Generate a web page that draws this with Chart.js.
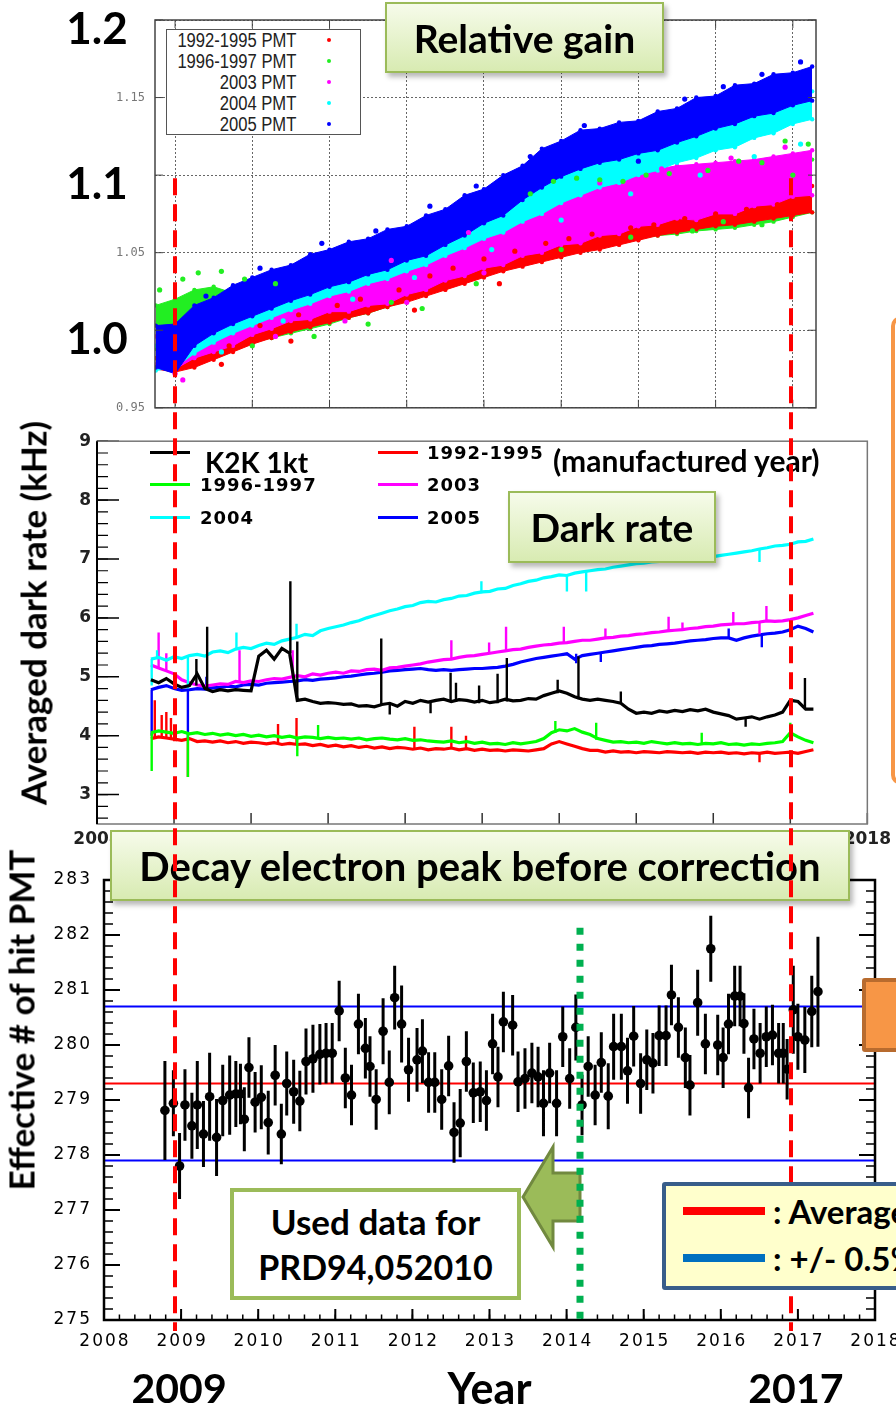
<!DOCTYPE html>
<html>
<head>
<meta charset="utf-8">
<title>PMT gain, dark rate and decay electron peak</title>
<script src="https://cdn.jsdelivr.net/npm/chart.js@4.4.1/dist/chart.umd.min.js"></script>
<style>
  html, body { margin: 0; padding: 0; }
  body { position: relative; width: 896px; height: 1407px; overflow: hidden; background: #fff; font-family: Lato, "Open Sans", sans-serif; color: #000; }
  canvas { position: absolute; left: 0; }
  #gain { top: 0; }
  #dark { top: 425px; }
  #peak { top: 835px; }
  #marks { top: 0; z-index: 5; pointer-events: none; }
  .banner { position: absolute; box-sizing: border-box; border: 2px solid #9bbb59; background: linear-gradient(#f6fbea, #d8ebb2); box-shadow: 3px 4px 5px rgba(0,0,0,0.28); display: flex; align-items: center; justify-content: center; font-weight: 700; z-index: 3; white-space: nowrap; }
  #gain-legend { position: absolute; left: 166px; top: 29px; width: 195px; height: 106px; box-sizing: border-box; border: 1px solid #555; background: #fff; z-index: 2; }
  .gl-row { position: absolute; right: 64px; height: 21px; line-height: 21px; font-size: 20px; font-family: "Liberation Sans", Arial, sans-serif; color: #222; transform: scaleX(0.83); transform-origin: right center; white-space: nowrap; }
  .gl-dot { position: absolute; left: 160px; width: 4px; height: 4px; border-radius: 50%; }
  .dl { position: absolute; z-index: 2; white-space: nowrap; font-family: "DejaVu Sans", sans-serif; font-weight: bold; font-size: 18px; letter-spacing: 1px; transform: translateY(-50%); }
  .dl-line { position: absolute; z-index: 2; width: 40px; height: 3px; }
  .ytitle { position: absolute; white-space: nowrap; font-weight: 700; font-size: 35px; line-height: 1; transform: translate(-50%, -50%) rotate(-90deg); }
  #used { position: absolute; left: 230px; top: 1188px; width: 291px; height: 112px; box-sizing: border-box; border: 4px solid #9bbb59; background: #fff; z-index: 3; display: flex; flex-direction: column; align-items: center; justify-content: center; font-weight: 700; line-height: 45px; }
  #arrow { position: absolute; left: 0; top: 0; z-index: 3; }
  #avg-box { position: absolute; left: 662px; top: 1182px; width: 300px; height: 108px; box-sizing: border-box; border: 4px solid #385d8a; border-radius: 3px; background: #ffffcc; z-index: 6; }
  .avg-row { position: absolute; left: 17px; height: 40px; display: flex; align-items: center; font-weight: 700; font-size: 33px; white-space: nowrap; transform: translateY(-50%); }
  .avg-swatch { width: 82px; height: 8px; margin-right: 8px; }
  #orange-top { position: absolute; left: 891px; top: 316px; width: 60px; height: 469px; box-sizing: border-box; border: 4px solid #f79646; border-radius: 10px; background: #fff; z-index: 6; }
  #orange-bottom { position: absolute; left: 862px; top: 978px; width: 60px; height: 74px; box-sizing: border-box; border: 4px solid #b86b2e; border-radius: 3px; background: #f79646; z-index: 6; }
</style>
</head>
<body>
<canvas id="gain" width="896" height="425"></canvas>
<canvas id="dark" width="896" height="420"></canvas>
<canvas id="peak" width="896" height="572"></canvas>
<canvas id="marks" width="896" height="1407"></canvas>

<div id="gain-legend"></div>

<div class="banner" style="left:385px;top:2px;width:279px;height:71px;font-size:39px">Relative gain</div>
<div class="banner" style="left:508px;top:491px;width:208px;height:72px;font-size:39px">Dark rate</div>
<div class="banner" style="left:110px;top:830px;width:740px;height:71px;font-size:40px">Decay electron peak before correction</div>

<div class="ytitle" style="left:33px;top:613px">Averaged dark rate (kHz)</div>
<div class="ytitle" style="left:21px;top:1020px">Effective # of hit PMT</div>

<div id="used"><div style="font-size:35px">Used data for</div><div style="font-size:34px">PRD94,052010</div></div>
<svg id="arrow" width="896" height="1407">
  <polygon points="523,1197 553,1147 553,1173 580,1173 580,1221 553,1221 553,1247" fill="#9bbb59" stroke="#71893f" stroke-width="3" stroke-linejoin="miter"/>
</svg>

<div id="avg-box">
  <div class="avg-row" style="top:25px"><span class="avg-swatch" style="background:#ff0000"></span>: Average</div>
  <div class="avg-row" style="top:72px"><span class="avg-swatch" style="background:#0070c0"></span>: +/- 0.5%</div>
</div>
<div id="orange-top"></div>
<div id="orange-bottom"></div>

<script>
// ---------- relative gain: band edges per PMT production year, 1/4-year steps ----------
const GAIN_YEARS = [2008.75, 2009.00, 2009.25, 2009.50, 2009.75, 2010.00, 2010.25, 2010.50, 2010.75, 2011.00,
  2011.25, 2011.50, 2011.75, 2012.00, 2012.25, 2012.50, 2012.75, 2013.00, 2013.25, 2013.50,
  2013.75, 2014.00, 2014.25, 2014.50, 2014.75, 2015.00, 2015.25, 2015.50, 2015.75, 2016.00,
  2016.25, 2016.50, 2016.75, 2017.00, 2017.25];

const GAIN_HI_9295 = [0.982, 0.980, 0.986, 0.991, 0.997, 1.003, 1.009, 1.012, 1.015, 1.018,
  1.020, 1.022, 1.025, 1.029, 1.034, 1.038, 1.043, 1.046, 1.050, 1.054,
  1.057, 1.060, 1.062, 1.065, 1.068, 1.071, 1.074, 1.076, 1.077, 1.079,
  1.081, 1.084, 1.087, 1.090, 1.093];
const GAIN_LO_9295 = [0.975, 0.973, 0.976, 0.981, 0.986, 0.991, 0.995, 0.999, 1.002, 1.005,
  1.008, 1.011, 1.015, 1.018, 1.022, 1.026, 1.030, 1.034, 1.038, 1.041,
  1.044, 1.047, 1.050, 1.052, 1.055, 1.058, 1.061, 1.063, 1.065, 1.067,
  1.068, 1.070, 1.072, 1.074, 1.076];

const GAIN_HI_9697 = [1.016, 1.020, 1.026, 1.028, 1.024, 1.016, 1.018, 1.020, 1.022, 1.024,
  1.028, 1.032, 1.036, 1.040, 1.045, 1.050, 1.055, 1.060, 1.064, 1.068,
  1.074, 1.080, 1.084, 1.086, 1.088, 1.090, 1.092, 1.093, 1.095, 1.098,
  1.101, 1.104, 1.110, 1.112, 1.110];
const GAIN_LO_9697 = [0.988, 0.985, 0.987, 0.989, 0.991, 0.992, 0.995, 0.998, 1.001, 1.004,
  1.008, 1.011, 1.015, 1.019, 1.023, 1.027, 1.033, 1.038, 1.043, 1.046,
  1.049, 1.051, 1.053, 1.055, 1.057, 1.059, 1.061, 1.062, 1.064, 1.065,
  1.066, 1.068, 1.070, 1.073, 1.076];

const GAIN_HI_2003 = [0.996, 0.995, 0.993, 1.004, 1.010, 1.017, 1.021, 1.026, 1.029, 1.034,
  1.036, 1.041, 1.043, 1.049, 1.052, 1.059, 1.062, 1.067, 1.069, 1.075,
  1.078, 1.087, 1.091, 1.099, 1.101, 1.102, 1.104, 1.106, 1.107, 1.108,
  1.109, 1.110, 1.112, 1.114, 1.116];
const GAIN_LO_2003 = [0.978, 0.975, 0.982, 0.986, 0.990, 0.997, 1.001, 1.006, 1.007, 1.012,
  1.012, 1.016, 1.017, 1.023, 1.026, 1.032, 1.035, 1.040, 1.042, 1.048,
  1.050, 1.055, 1.056, 1.061, 1.062, 1.067, 1.068, 1.072, 1.071, 1.075,
  1.075, 1.080, 1.081, 1.086, 1.087];

const GAIN_HI_2004 = [0.990, 0.988, 0.998, 1.005, 1.011, 1.016, 1.021, 1.026, 1.030, 1.034,
  1.038, 1.042, 1.046, 1.051, 1.055, 1.061, 1.067, 1.074, 1.080, 1.089,
  1.097, 1.104, 1.109, 1.113, 1.116, 1.120, 1.123, 1.127, 1.131, 1.136,
  1.139, 1.144, 1.147, 1.151, 1.154];
const GAIN_LO_2004 = [0.974, 0.976, 0.985, 0.992, 0.998, 1.003, 1.008, 1.013, 1.017, 1.022,
  1.025, 1.030, 1.033, 1.038, 1.042, 1.048, 1.053, 1.059, 1.063, 1.070,
  1.075, 1.082, 1.087, 1.092, 1.095, 1.100, 1.103, 1.108, 1.111, 1.116,
  1.118, 1.124, 1.127, 1.133, 1.136];

const GAIN_HI_2005 = [1.003, 1.004, 1.016, 1.021, 1.029, 1.034, 1.039, 1.042, 1.049, 1.052,
  1.057, 1.059, 1.065, 1.067, 1.074, 1.078, 1.087, 1.091, 1.100, 1.106,
  1.117, 1.122, 1.129, 1.130, 1.134, 1.135, 1.141, 1.143, 1.150, 1.151,
  1.158, 1.159, 1.165, 1.166, 1.170];
const GAIN_LO_2005 = [0.976, 0.972, 0.990, 0.998, 1.004, 1.009, 1.014, 1.019, 1.023, 1.028,
  1.031, 1.036, 1.039, 1.045, 1.048, 1.055, 1.061, 1.069, 1.074, 1.084,
  1.092, 1.099, 1.104, 1.108, 1.110, 1.114, 1.116, 1.121, 1.125, 1.130,
  1.133, 1.138, 1.140, 1.145, 1.148];

// single PMT-group points lying off the dense bands, [year, gain]
const GAIN_OUT_9295 = [[2009.6, 0.978], [2009.7, 0.990], [2010.1, 1.003], [2010.5, 0.993], [2010.6, 1.010],
  [2011.1, 1.016], [2011.4, 1.020], [2011.9, 1.026], [2012.1, 1.013], [2012.3, 1.035], [2012.6, 1.040],
  [2013.0, 1.046], [2013.2, 1.030], [2013.4, 1.051], [2013.8, 1.056], [2014.1, 1.059], [2014.4, 1.062],
  [2014.9, 1.066], [2015.2, 1.068], [2015.6, 1.072], [2016.0, 1.075], [2016.4, 1.078], [2016.8, 1.081],
  [2017.1, 1.083]];
const GAIN_OUT_9697 = [[2008.8, 1.026], [2009.1, 1.033], [2009.3, 1.037], [2009.6, 1.038], [2009.9, 1.033],
  [2010.0, 0.990], [2010.3, 1.030], [2010.8, 0.996], [2011.5, 1.004], [2011.8, 1.018], [2012.2, 1.014],
  [2012.9, 1.030], [2013.6, 1.088], [2013.9, 1.096], [2014.0, 1.052], [2014.2, 1.098], [2014.5, 1.097],
  [2014.8, 1.096], [2014.9, 1.060], [2015.1, 1.100], [2015.4, 1.101], [2015.7, 1.064], [2015.9, 1.103],
  [2016.1, 1.070], [2016.3, 1.109], [2016.6, 1.108], [2016.6, 1.068], [2016.9, 1.122], [2017.0, 1.100],
  [2017.2, 1.120]];
const GAIN_OUT_2003 = [[2009.0, 0.972], [2009.1, 0.968], [2010.3, 0.996], [2011.2, 1.006], [2011.8, 1.045],
  [2012.0, 1.018], [2012.8, 1.063], [2013.0, 1.037], [2014.5, 1.095], [2015.3, 1.104], [2016.2, 1.111],
  [2016.9, 1.118]];
const GAIN_OUT_2004 = [[2009.6, 0.986], [2010.4, 1.006], [2011.3, 1.020], [2012.1, 1.034], [2013.1, 1.052],
  [2014.0, 1.071], [2014.9, 1.088], [2015.8, 1.100], [2016.5, 1.112], [2017.1, 1.120]];
const GAIN_OUT_2005 = [[2009.4, 1.022], [2010.1, 1.040], [2010.9, 1.056], [2011.6, 1.064], [2012.3, 1.080],
  [2012.9, 1.093], [2013.6, 1.112], [2013.9, 1.097], [2014.3, 1.132], [2015.0, 1.109], [2015.6, 1.149],
  [2016.1, 1.157], [2016.6, 1.165], [2017.1, 1.173]];

const GAIN_BIG_TICKS = [1.0, 1.1, 1.2];

// ---------- averaged dark rate (kHz), 0.1-year steps, spikes as [year, from, to] ----------
const DARK_YEARS = [2008.7, 2008.8, 2008.9,
  2009.0, 2009.1, 2009.2, 2009.3, 2009.4, 2009.5, 2009.6, 2009.7, 2009.8, 2009.9,
  2010.0, 2010.1, 2010.2, 2010.3, 2010.4, 2010.5, 2010.6, 2010.7, 2010.8, 2010.9,
  2011.0, 2011.1, 2011.2, 2011.3, 2011.4, 2011.5, 2011.6, 2011.7, 2011.8, 2011.9,
  2012.0, 2012.1, 2012.2, 2012.3, 2012.4, 2012.5, 2012.6, 2012.7, 2012.8, 2012.9,
  2013.0, 2013.1, 2013.2, 2013.3, 2013.4, 2013.5, 2013.6, 2013.7, 2013.8, 2013.9,
  2014.0, 2014.1, 2014.2, 2014.3, 2014.4, 2014.5, 2014.6, 2014.7, 2014.8, 2014.9,
  2015.0, 2015.1, 2015.2, 2015.3, 2015.4, 2015.5, 2015.6, 2015.7, 2015.8, 2015.9,
  2016.0, 2016.1, 2016.2, 2016.3, 2016.4, 2016.5, 2016.6, 2016.7, 2016.8, 2016.9,
  2017.0, 2017.1, 2017.2, 2017.3];

const DARK_2004 = [5.30, 5.33, 5.28,
  5.34, 5.31, 5.36, 5.38, 5.35, 5.42, 5.44, 5.41, 5.47, 5.50,
  5.48, 5.53, 5.57, 5.55, 5.61, 5.64, 5.67, 5.72, 5.70, 5.78,
  5.82, 5.85, 5.88, 5.92, 5.95, 6.00, 6.04, 6.08, 6.12, 6.15,
  6.19, 6.21, 6.26, 6.28, 6.27, 6.31, 6.33, 6.37, 6.38, 6.42,
  6.44, 6.45, 6.49, 6.50, 6.55, 6.58, 6.62, 6.64, 6.68, 6.70,
  6.73, 6.72, 6.76, 6.78, 6.80, 6.82, 6.83, 6.86, 6.88, 6.90,
  6.92, 6.93, 6.95, 6.96, 6.97, 6.98, 6.97, 6.99, 7.01, 7.00,
  7.04, 7.06, 7.08, 7.10, 7.12, 7.14, 7.17, 7.19, 7.22, 7.23,
  7.25, 7.29, 7.30, 7.34];
const DARK_2004_SPIKES = [[2008.71, 4.85, 5.30], [2008.78, 5.30, 5.45], [2009.18, 4.80, 5.36],
  [2009.81, 5.47, 5.75], [2010.59, 5.67, 5.90], [2012.99, 6.42, 6.62], [2014.10, 6.45, 6.72],
  [2014.35, 6.45, 6.78], [2016.60, 6.95, 7.17]];

const DARK_2003 = [5.20, 5.15, 5.10,
  5.05, 4.95, 4.90, 4.86, 4.84, 4.86, 4.88, 4.87, 4.92, 4.90,
  4.93, 4.92, 4.95, 4.97, 4.96, 4.99, 5.02, 5.00, 5.05, 5.03,
  5.06, 5.08, 5.06, 5.10, 5.09, 5.12, 5.13, 5.11, 5.15, 5.16,
  5.18, 5.20, 5.22, 5.25, 5.27, 5.29, 5.30, 5.33, 5.35, 5.36,
  5.38, 5.40, 5.42, 5.44, 5.46, 5.47, 5.50, 5.52, 5.54, 5.55,
  5.57, 5.58, 5.60, 5.62, 5.62, 5.64, 5.66, 5.67, 5.69, 5.70,
  5.72, 5.73, 5.75, 5.76, 5.78, 5.79, 5.80, 5.82, 5.83, 5.85,
  5.86, 5.88, 5.89, 5.90, 5.90, 5.92, 5.93, 5.95, 5.94, 5.95,
  5.97, 6.00, 6.04, 6.08];
const DARK_2003_SPIKES = [[2008.80, 5.15, 5.75], [2008.90, 5.10, 5.40], [2009.85, 4.90, 5.45],
  [2010.54, 4.99, 5.45], [2012.60, 5.30, 5.62], [2013.09, 5.40, 5.58], [2013.31, 5.44, 5.85],
  [2014.06, 5.57, 5.85], [2014.60, 5.66, 5.82], [2015.42, 5.78, 6.02], [2015.60, 5.80, 5.92],
  [2016.26, 5.90, 6.10], [2016.60, 5.72, 5.93], [2016.69, 5.95, 6.20]];

const DARK_2005 = [4.78, 4.82, 4.85,
  4.80, 4.77, 4.78, 4.80, 4.79, 4.81, 4.82, 4.84, 4.83, 4.86,
  4.87, 4.86, 4.89, 4.90, 4.91, 4.92, 4.93, 4.95, 4.94, 4.96,
  4.97, 4.98, 5.00, 5.01, 5.03, 5.05, 5.06, 5.08, 5.10, 5.11,
  5.12, 5.13, 5.14, 5.12, 5.11, 5.12, 5.11, 5.12, 5.13, 5.14,
  5.14, 5.15, 5.16, 5.18, 5.21, 5.25, 5.28, 5.31, 5.33, 5.35,
  5.37, 5.39, 5.30, 5.36, 5.38, 5.40, 5.42, 5.44, 5.46, 5.48,
  5.50, 5.52, 5.53, 5.55, 5.56, 5.57, 5.59, 5.61, 5.62, 5.63,
  5.65, 5.66, 5.66, 5.62, 5.66, 5.69, 5.71, 5.73, 5.74, 5.76,
  5.80, 5.86, 5.82, 5.76];
const DARK_2005_SPIKES = [[2008.71, 4.00, 4.78], [2009.18, 3.95, 4.80], [2009.42, 4.79, 5.00],
  [2014.22, 5.23, 5.39], [2014.54, 5.25, 5.42], [2016.20, 5.66, 5.82], [2016.63, 5.50, 5.71]];

const DARK_K2K = [4.95, 4.90, 4.97,
  4.88, 4.82, 4.85, 5.05, 4.80, 4.75, 4.78, 4.76, 4.78, 4.77,
  4.76, 5.35, 5.45, 5.30, 5.48, 5.40, 4.60, 4.62, 4.58, 4.55,
  4.56, 4.55, 4.53, 4.54, 4.50, 4.51, 4.49, 4.53, 4.55, 4.50,
  4.58, 4.55, 4.60, 4.57, 4.60, 4.62, 4.58, 4.61, 4.60, 4.57,
  4.60, 4.56, 4.58, 4.62, 4.59, 4.60, 4.63, 4.62, 4.68, 4.72,
  4.76, 4.72, 4.66, 4.62, 4.60, 4.62, 4.60, 4.58, 4.55, 4.45,
  4.38, 4.40, 4.38, 4.42, 4.40, 4.43, 4.41, 4.44, 4.42, 4.45,
  4.40, 4.37, 4.34, 4.28, 4.30, 4.32, 4.28, 4.32, 4.35, 4.40,
  4.60, 4.58, 4.45, 4.45];
const DARK_K2K_SPIKES = [[2009.29, 4.85, 5.30], [2009.43, 4.80, 5.85], [2010.51, 5.40, 6.62],
  [2010.60, 4.60, 5.60], [2011.69, 4.52, 5.65], [2011.80, 4.36, 4.55], [2012.33, 4.38, 4.57],
  [2012.59, 4.58, 5.07], [2012.66, 4.57, 4.90], [2012.96, 4.55, 4.85], [2013.20, 4.55, 5.05],
  [2013.32, 4.58, 5.32], [2013.98, 4.72, 4.95], [2014.25, 4.62, 5.35], [2014.80, 4.55, 4.75],
  [2016.42, 4.15, 4.30], [2017.19, 4.45, 4.98]];

const DARK_9697 = [4.05, 4.08, 4.06,
  4.04, 4.07, 4.03, 4.05, 4.02, 4.04, 4.01, 4.03, 4.00, 4.02,
  3.99, 4.01, 3.98, 4.00, 3.97, 3.99, 3.96, 3.98, 3.97, 3.95,
  3.97, 3.95, 3.96, 3.94, 3.96, 3.93, 3.95, 3.96, 3.94, 3.93,
  3.95, 3.92, 3.93, 3.91, 3.90, 3.89, 3.91, 3.88, 3.90, 3.87,
  3.89, 3.86, 3.87, 3.85, 3.88, 3.86, 3.88, 3.90, 3.95, 4.05,
  4.10, 4.08, 4.12, 4.06, 4.02, 3.95, 3.92, 3.89, 3.90, 3.88,
  3.89, 3.87, 3.90, 3.88, 3.86, 3.88, 3.86, 3.87, 3.85, 3.87,
  3.86, 3.88, 3.85, 3.86, 3.84, 3.86, 3.85, 3.87, 3.88, 3.90,
  4.05, 3.98, 3.92, 3.88];
const DARK_9697_SPIKES = [[2008.71, 3.40, 4.05], [2009.18, 3.30, 4.05], [2010.60, 3.65, 3.96],
  [2010.87, 3.97, 4.18], [2013.95, 4.05, 4.25], [2014.48, 3.93, 4.22], [2015.85, 3.86, 4.05],
  [2017.00, 4.05, 4.22]];

const DARK_9295 = [3.95, 3.98, 3.96,
  3.94, 3.92, 3.95, 3.90, 3.91, 3.89, 3.91, 3.88, 3.90, 3.87,
  3.89, 3.88, 3.86, 3.88, 3.85, 3.87, 3.85, 3.86, 3.83, 3.85,
  3.82, 3.84, 3.81, 3.83, 3.80, 3.82, 3.79, 3.81, 3.78, 3.80,
  3.79, 3.77, 3.79, 3.76, 3.78, 3.77, 3.79, 3.76, 3.78, 3.75,
  3.77, 3.75, 3.76, 3.74, 3.76, 3.75, 3.74, 3.76, 3.78, 3.86,
  3.90, 3.86, 3.82, 3.78, 3.75, 3.75, 3.72, 3.74, 3.72, 3.73,
  3.71, 3.73, 3.72, 3.71, 3.73, 3.72, 3.71, 3.72, 3.70, 3.72,
  3.71, 3.72, 3.70, 3.71, 3.69, 3.71, 3.70, 3.72, 3.70, 3.71,
  3.72, 3.70, 3.73, 3.76];
const DARK_9295_SPIKES = [[2008.75, 3.96, 4.60], [2008.84, 3.97, 4.35], [2008.90, 3.96, 4.40],
  [2008.96, 3.95, 4.30], [2009.18, 3.30, 3.95], [2010.35, 3.86, 4.20], [2010.59, 3.85, 4.30],
  [2012.12, 3.77, 4.15], [2012.60, 3.79, 4.15], [2012.79, 3.77, 4.00], [2016.60, 3.55, 3.70]];

// ---------- decay electron peak: monthly points with errors ----------
const PEAK_YEAR = [2008.79, 2008.90, 2008.98, 2009.05, 2009.14, 2009.21, 2009.29, 2009.37, 2009.46, 2009.54,
  2009.63, 2009.71, 2009.77, 2009.82, 2009.88, 2009.96, 2010.04, 2010.13, 2010.22, 2010.30,
  2010.37, 2010.46, 2010.54, 2010.62, 2010.71, 2010.80, 2010.88, 2010.96, 2011.05, 2011.13,
  2011.21, 2011.30, 2011.39, 2011.45, 2011.53, 2011.62, 2011.70, 2011.77, 2011.86, 2011.95,
  2012.06, 2012.13, 2012.21, 2012.29, 2012.38, 2012.47, 2012.54, 2012.62, 2012.70, 2012.79,
  2012.88, 2012.96, 2013.04, 2013.11, 2013.18, 2013.30, 2013.37, 2013.46, 2013.55, 2013.63,
  2013.70, 2013.78, 2013.87, 2013.95, 2014.04, 2014.12, 2014.20, 2014.28, 2014.37, 2014.45,
  2014.54, 2014.61, 2014.71, 2014.79, 2014.87, 2014.96, 2015.04, 2015.12, 2015.20, 2015.29,
  2015.36, 2015.45, 2015.54, 2015.60, 2015.70, 2015.80, 2015.87, 2015.96, 2016.03, 2016.10,
  2016.18, 2016.25, 2016.30, 2016.36, 2016.43, 2016.51, 2016.59, 2016.67, 2016.75, 2016.81,
  2016.86, 2016.94, 2017.00, 2017.09, 2017.18, 2017.26];
const PEAK_VALUE = [278.81, 278.94, 277.80, 278.91, 278.53, 278.91, 278.38, 279.06, 278.32, 278.99,
  279.09, 279.11, 279.11, 278.65, 279.59, 278.96, 279.05, 278.59, 279.45, 278.38,
  279.30, 279.15, 278.98, 279.70, 279.75, 279.83, 279.85, 279.85, 280.62, 279.40,
  279.09, 280.38, 279.94, 279.61, 279.01, 280.25, 279.32, 280.86, 280.38, 279.55,
  279.73, 279.89, 279.32, 279.32, 279.01, 279.62, 278.41, 278.58, 279.70, 279.13,
  279.15, 278.99, 280.02, 279.42, 280.42, 280.36, 279.33, 279.39, 279.49, 279.42,
  278.94, 279.49, 278.94, 280.15, 279.39, 280.32, 278.91, 279.61, 279.09, 279.68,
  279.07, 279.97, 279.97, 279.53, 280.16, 279.30, 279.73, 279.67, 280.17, 280.17,
  280.91, 280.32, 279.77, 279.27, 280.77, 280.02, 281.75, 280.00, 279.77, 280.38,
  280.89, 280.89, 280.39, 279.22, 280.11, 279.85, 280.15, 280.18, 279.85, 279.85,
  279.56, 280.64, 280.15, 280.09, 280.61, 280.97];
const PEAK_ERR = [0.90, 0.60, 0.60, 0.65, 0.60, 0.80, 0.60, 0.80, 0.70, 0.65,
  0.72, 0.60, 0.55, 0.58, 0.55, 0.55, 0.58, 0.58, 0.55, 0.55,
  0.58, 0.58, 0.55, 0.60, 0.62, 0.55, 0.55, 0.55, 0.55, 0.55,
  0.55, 0.55, 0.55, 0.55, 0.55, 0.60, 0.58, 0.58, 0.70, 0.58,
  0.58, 0.58, 0.55, 0.55, 0.55, 0.55, 0.55, 0.62, 0.55, 0.55,
  0.55, 0.55, 0.55, 0.55, 0.55, 0.55, 0.55, 0.55, 0.55, 0.55,
  0.60, 0.55, 0.60, 0.55, 0.55, 0.60, 0.55, 0.55, 0.55, 0.55,
  0.60, 0.60, 0.60, 0.60, 0.55, 0.55, 0.55, 0.55, 0.55, 0.55,
  0.55, 0.55, 0.55, 0.55, 0.60, 0.55, 0.60, 0.55, 0.55, 0.55,
  0.55, 0.55, 0.55, 0.55, 0.55, 0.55, 0.55, 0.55, 0.55, 0.55,
  0.55, 0.80, 0.60, 0.60, 0.65, 1.00];
const PEAK_BIN_HALF = 0.04;
const PEAK_AVERAGE = 279.3;
const PEAK_BAND = [277.9, 280.7];
const PEAK_Y_TICKS = [275, 276, 277, 278, 279, 280, 281, 282, 283];
const YEAR_TICKS = [2008, 2009, 2010, 2011, 2012, 2013, 2014, 2015, 2016, 2017, 2018];

// dashed markers: period ends (red) and the analysis cut (green)
const MARK_YEARS = [2008.92, 2016.91];
const MARK_LABELS = ["2009", "2017"];
const CUT_YEAR = 2014.17;

// order: lower number is drawn on top
const GAIN_SERIES = [
  { label: "1992-1995 PMT", color: "#ff0000", hi: GAIN_HI_9295, lo: GAIN_LO_9295, out: GAIN_OUT_9295, order: 3 },
  { label: "1996-1997 PMT", color: "#22ee22", hi: GAIN_HI_9697, lo: GAIN_LO_9697, out: GAIN_OUT_9697, order: 4 },
  { label: "2003 PMT", color: "#ff00ff", hi: GAIN_HI_2003, lo: GAIN_LO_2003, out: GAIN_OUT_2003, order: 2 },
  { label: "2004 PMT", color: "#00ffff", hi: GAIN_HI_2004, lo: GAIN_LO_2004, out: GAIN_OUT_2004, order: 1 },
  { label: "2005 PMT", color: "#0000ff", hi: GAIN_HI_2005, lo: GAIN_LO_2005, out: GAIN_OUT_2005, order: 0 },
];

const DARK_SERIES = [
  { label: "K2K 1kt", color: "#000000", values: DARK_K2K, spikes: DARK_K2K_SPIKES },
  { label: "1996-1997", color: "#00ff00", values: DARK_9697, spikes: DARK_9697_SPIKES },
  { label: "2004", color: "#00ffff", values: DARK_2004, spikes: DARK_2004_SPIKES },
  { label: "1992-1995", color: "#ff0000", values: DARK_9295, spikes: DARK_9295_SPIKES },
  { label: "2003", color: "#ff00ff", values: DARK_2003, spikes: DARK_2003_SPIKES },
  { label: "2005", color: "#0000ff", values: DARK_2005, spikes: DARK_2005_SPIKES },
];

Chart.defaults.animation = false;
Chart.defaults.responsive = false;
Chart.defaults.devicePixelRatio = 1;
Chart.defaults.plugins.legend.display = false;
Chart.defaults.plugins.tooltip.enabled = false;
Chart.defaults.layout.autoPadding = false;

function pairs(xs, ys) {
  return xs.map(function (x, i) { return { x: x, y: ys[i] }; });
}

// frame box plus inward tick marks, ROOT style
function framePlugin(cfg) {
  return {
    id: "frame",
    afterDatasetsDraw(chart) {
      const ctx = chart.ctx, a = chart.chartArea;
      ctx.save();
      ctx.setLineDash([]);
      cfg.ticks.forEach(function (t) {
        const s = chart.scales[t.axis];
        ctx.strokeStyle = t.color || cfg.color;
        ctx.lineWidth = t.width;
        const n0 = Math.ceil(s.min / t.step - 1e-6);
        const n1 = Math.floor(s.max / t.step + 1e-6);
        ctx.beginPath();
        for (let n = n0; n <= n1; n++) {
          const p = s.getPixelForValue(n * t.step);
          t.sides.forEach(function (side) {
            if (side === "left") { ctx.moveTo(a.left, p); ctx.lineTo(a.left + t.len, p); }
            if (side === "right") { ctx.moveTo(a.right, p); ctx.lineTo(a.right - t.len, p); }
            if (side === "bottom") { ctx.moveTo(p, a.bottom); ctx.lineTo(p, a.bottom - t.len); }
            if (side === "top") { ctx.moveTo(p, a.top); ctx.lineTo(p, a.top + t.len); }
          });
        }
        ctx.stroke();
      });
      ctx.strokeStyle = cfg.color;
      ctx.lineWidth = cfg.width;
      ctx.strokeRect(a.left, a.top, a.right - a.left, a.bottom - a.top);
      if (cfg.leftColor) {
        ctx.strokeStyle = cfg.leftColor;
        ctx.lineWidth = cfg.leftWidth;
        ctx.beginPath();
        ctx.moveTo(a.left, a.top);
        ctx.lineTo(a.left, a.bottom);
        ctx.stroke();
      }
      ctx.restore();
    },
  };
}

// ---------- relative gain ----------
const gainDatasets = [];
GAIN_SERIES.forEach(function (s) {
  const common = { borderColor: s.color, backgroundColor: s.color, borderWidth: 1, pointRadius: 2.2,
    pointBorderWidth: 0, pointBackgroundColor: s.color, order: s.order, tension: 0 };
  gainDatasets.push(Object.assign({ label: s.label, data: pairs(GAIN_YEARS, s.hi), fill: "+1" }, common));
  gainDatasets.push(Object.assign({ label: s.label + " low", data: pairs(GAIN_YEARS, s.lo), fill: false }, common));
});
GAIN_SERIES.forEach(function (s) {
  gainDatasets.push({ label: s.label + " single", data: s.out.map(function (p) { return { x: p[0], y: p[1] }; }),
    showLine: false, pointRadius: 2.6, pointBorderWidth: 0, pointBackgroundColor: s.color, order: -1 });
});

const gainBigLabels = {
  id: "gainBig",
  afterDraw(chart) {
    const ctx = chart.ctx, y = chart.scales.y;
    ctx.save();
    ctx.font = "bold 44px Lato";
    ctx.fillStyle = "#000";
    ctx.textAlign = "center";
    ctx.textBaseline = "middle";
    GAIN_BIG_TICKS.forEach(function (v) {
      ctx.fillText(v.toFixed(1), 97, y.getPixelForValue(v) + 10);
    });
    ctx.restore();
  },
};

const gainChart = new Chart(document.getElementById("gain"), {
  type: "line",
  data: { datasets: gainDatasets },
  options: {
    layout: { padding: { top: 20, right: 80, left: 0, bottom: 0 } },
    scales: {
      x: {
        type: "linear", min: 2008.74, max: 2017.30,
        afterFit: function (s) { s.height = 9; },
        ticks: { display: false, stepSize: 1, includeBounds: false },
        grid: { color: "#666", lineWidth: 1, drawTicks: false },
        border: { display: false, dash: [2, 2] },
      },
      y: {
        min: 0.95, max: 1.2,
        afterFit: function (s) { s.width = 155; },
        ticks: {
          stepSize: 0.05, padding: 10, color: "#777",
          font: { family: "DejaVu Sans Mono", size: 12 },
          callback: function (v) {
            const k = Math.round(v * 100);
            return k % 10 === 0 ? "" : (k / 100).toFixed(2);
          },
        },
        grid: { color: "#666", lineWidth: 1, drawTicks: false },
        border: { display: false, dash: [2, 2] },
      },
    },
  },
  plugins: [framePlugin({ color: "#444", width: 1.5, ticks: [
    { axis: "x", step: 1, sides: ["bottom", "top"], len: 8, width: 1 },
    { axis: "y", step: 0.05, sides: ["left", "right"], len: 8, width: 1 },
  ] }), gainBigLabels],
});

// legend box of the gain panel
const gainLegend = document.getElementById("gain-legend");
GAIN_SERIES.forEach(function (s, i) {
  const row = document.createElement("div");
  row.className = "gl-row";
  row.style.top = (i * 21) + "px";
  row.textContent = s.label;
  gainLegend.appendChild(row);
  const dot = document.createElement("div");
  dot.className = "gl-dot";
  dot.style.top = (i * 21 + 8) + "px";
  dot.style.background = s.color;
  gainLegend.appendChild(dot);
});

// ---------- dark rate ----------
const darkDatasets = [];
DARK_SERIES.forEach(function (s, i) {
  darkDatasets.push({ label: s.label, data: pairs(DARK_YEARS, s.values), borderColor: s.color,
    borderWidth: 3.2, pointRadius: 0, tension: 0, fill: false, order: i });
  const spikePts = [];
  s.spikes.forEach(function (p) {
    spikePts.push({ x: p[0], y: p[1] }, { x: p[0], y: p[2] }, { x: p[0], y: null });
  });
  darkDatasets.push({ label: s.label + " spikes", data: spikePts, borderColor: s.color,
    borderWidth: 2.4, pointRadius: 0, tension: 0, fill: false, spanGaps: false, order: i });
});

const darkChart = new Chart(document.getElementById("dark"), {
  type: "line",
  data: { datasets: darkDatasets },
  options: {
    layout: { padding: { top: 10, right: 27, left: 0, bottom: 0 } },
    scales: {
      x: {
        type: "linear", min: 2008, max: 2018,
        afterFit: function (s) { s.height = 21; },
        ticks: { stepSize: 1, padding: 5, color: "#222", font: { family: "DejaVu Sans", size: 17, weight: "bold" },
          callback: function (v) { return String(v); } },
        grid: { display: false, drawTicks: false },
        border: { display: false },
      },
      y: {
        min: 2.5, max: 9,
        afterFit: function (s) { s.width = 97; },
        ticks: { stepSize: 1, padding: 6, includeBounds: false, color: "#222",
          font: { family: "DejaVu Sans", size: 17, weight: "bold" },
          callback: function (v) { return String(v); } },
        grid: { display: false, drawTicks: false },
        border: { display: false },
      },
    },
  },
  plugins: [framePlugin({ color: "#777", width: 1.5, leftColor: "#000", leftWidth: 2, ticks: [
    { axis: "y", step: 1, sides: ["left"], len: 22, width: 1.5, color: "#000" },
    { axis: "y", step: 0.2, sides: ["left"], len: 11, width: 1.2, color: "#000" },
    { axis: "x", step: 1, sides: ["bottom"], len: 11, width: 1.5, color: "#333" },
  ] })],
});

// legend entries of the dark-rate panel
const DARK_LEGEND_SLOTS = [
  { lx: 150, tx: 205, y: 452, big: true }, { lx: 150, tx: 200, y: 484 }, { lx: 150, tx: 200, y: 517 },
  { lx: 378, tx: 427, y: 452 }, { lx: 378, tx: 427, y: 484 }, { lx: 378, tx: 427, y: 517 },
];
DARK_SERIES.forEach(function (s, i) {
  const slot = DARK_LEGEND_SLOTS[i];
  const line = document.createElement("div");
  line.className = "dl-line";
  line.style.left = slot.lx + "px";
  line.style.top = (slot.y - 1.5) + "px";
  line.style.background = s.color;
  document.body.appendChild(line);
  const txt = document.createElement("div");
  txt.className = "dl";
  txt.style.left = slot.tx + "px";
  txt.style.top = (slot.y + (slot.big ? 10 : 0)) + "px";
  if (slot.big) {
    txt.style.fontFamily = "Lato, sans-serif";
    txt.style.fontSize = "28px";
    txt.style.letterSpacing = "0";
  }
  txt.textContent = s.label;
  document.body.appendChild(txt);
});
const manu = document.createElement("div");
manu.className = "dl";
manu.style.cssText = "left:553px;top:460px;font-family:Lato,sans-serif;font-size:30px;letter-spacing:0";
manu.textContent = "(manufactured year)";
document.body.appendChild(manu);

// ---------- decay electron peak ----------
const errorBars = {
  id: "errorBars",
  afterDatasetsDraw(chart) {
    const ctx = chart.ctx, x = chart.scales.x, y = chart.scales.y;
    ctx.save();
    ctx.strokeStyle = "#000";
    ctx.lineWidth = 3;
    ctx.beginPath();
    PEAK_YEAR.forEach(function (yr, i) {
      const px = x.getPixelForValue(yr), py = y.getPixelForValue(PEAK_VALUE[i]);
      ctx.moveTo(px, y.getPixelForValue(PEAK_VALUE[i] - PEAK_ERR[i]));
      ctx.lineTo(px, y.getPixelForValue(PEAK_VALUE[i] + PEAK_ERR[i]));
      ctx.moveTo(x.getPixelForValue(yr - PEAK_BIN_HALF), py);
      ctx.lineTo(x.getPixelForValue(yr + PEAK_BIN_HALF), py);
    });
    ctx.stroke();
    ctx.restore();
  },
};

const peakLabels = {
  id: "peakLabels",
  afterDraw(chart) {
    const ctx = chart.ctx, a = chart.chartArea, x = chart.scales.x, y = chart.scales.y;
    ctx.save();
    ctx.fillStyle = "#000";
    ctx.font = '17px "DejaVu Sans"';
    ctx.letterSpacing = "2px";
    ctx.textBaseline = "middle";
    ctx.textAlign = "right";
    PEAK_Y_TICKS.forEach(function (v) { ctx.fillText(String(v), a.left - 12, y.getPixelForValue(v)); });
    ctx.textAlign = "center";
    YEAR_TICKS.forEach(function (v) { ctx.fillText(String(v), x.getPixelForValue(v) + 1, a.bottom + 22); });
    ctx.letterSpacing = "0px";
    ctx.font = "bold 41px Lato";
    MARK_LABELS.forEach(function (t) {
      ctx.fillText(t, x.getPixelForValue(Number(t)) - 2, a.bottom + 70);
    });
    ctx.font = "bold 43px Lato";
    ctx.fillText("Year", (a.left + a.right) / 2, a.bottom + 70);
    ctx.restore();
  },
};

const peakChart = new Chart(document.getElementById("peak"), {
  type: "line",
  data: {
    datasets: [
      { label: "peak", data: pairs(PEAK_YEAR, PEAK_VALUE), showLine: false, pointRadius: 4.8,
        pointBackgroundColor: "#000", pointBorderWidth: 0, order: 0 },
      { label: "average", data: [{ x: 2008, y: PEAK_AVERAGE }, { x: 2018, y: PEAK_AVERAGE }],
        borderColor: "#ff0000", borderWidth: 2, pointRadius: 0, order: 1 },
      { label: "-0.5%", data: [{ x: 2008, y: PEAK_BAND[0] }, { x: 2018, y: PEAK_BAND[0] }],
        borderColor: "#0000ff", borderWidth: 2, pointRadius: 0, order: 1 },
      { label: "+0.5%", data: [{ x: 2008, y: PEAK_BAND[1] }, { x: 2018, y: PEAK_BAND[1] }],
        borderColor: "#0000ff", borderWidth: 2, pointRadius: 0, order: 1 },
    ],
  },
  options: {
    layout: { padding: { top: 45, right: 21, left: 0, bottom: 0 } },
    scales: {
      x: {
        type: "linear", min: 2008, max: 2018,
        afterFit: function (s) { s.height = 87; },
        ticks: { display: false },
        grid: { display: false, drawTicks: false },
        border: { display: false },
      },
      y: {
        min: 275, max: 283,
        afterFit: function (s) { s.width = 104; },
        ticks: { display: false },
        grid: { display: false, drawTicks: false },
        border: { display: false },
      },
    },
  },
  plugins: [errorBars, framePlugin({ color: "#000", width: 2.5, ticks: [
    { axis: "y", step: 1, sides: ["left", "right"], len: 16, width: 2 },
    { axis: "y", step: 0.2, sides: ["left", "right"], len: 9, width: 1.5 },
    { axis: "x", step: 1, sides: ["bottom"], len: 11, width: 2 },
    { axis: "x", step: 0.2, sides: ["bottom"], len: 5.5, width: 1.5 },
  ] }), peakLabels],
});

// ---------- markers across all three panels ----------
(function drawMarks() {
  const ctx = document.getElementById("marks").getContext("2d");
  const px = peakChart.scales.x, py = peakChart.scales.y, gy = gainChart.scales.y;
  const top0 = gainChart.canvas.offsetTop, top2 = peakChart.canvas.offsetTop;
  ctx.strokeStyle = "#ff0000";
  ctx.lineWidth = 4;
  ctx.setLineDash([17, 9]);
  MARK_YEARS.forEach(function (yr) {
    const x = Math.round(px.getPixelForValue(yr));
    ctx.beginPath();
    ctx.moveTo(x, top0 + gy.getPixelForValue(1.098));
    ctx.lineTo(x, top2 + py.getPixelForValue(274.8));
    ctx.stroke();
  });
  ctx.strokeStyle = "#00b050";
  ctx.lineWidth = 7;
  ctx.setLineDash([7, 9]);
  const cx = Math.round(px.getPixelForValue(CUT_YEAR));
  ctx.beginPath();
  ctx.moveTo(cx, top2 + py.getPixelForValue(282.13));
  ctx.lineTo(cx, top2 + py.getPixelForValue(274.87));
  ctx.stroke();
})();
</script>
</body>
</html>
